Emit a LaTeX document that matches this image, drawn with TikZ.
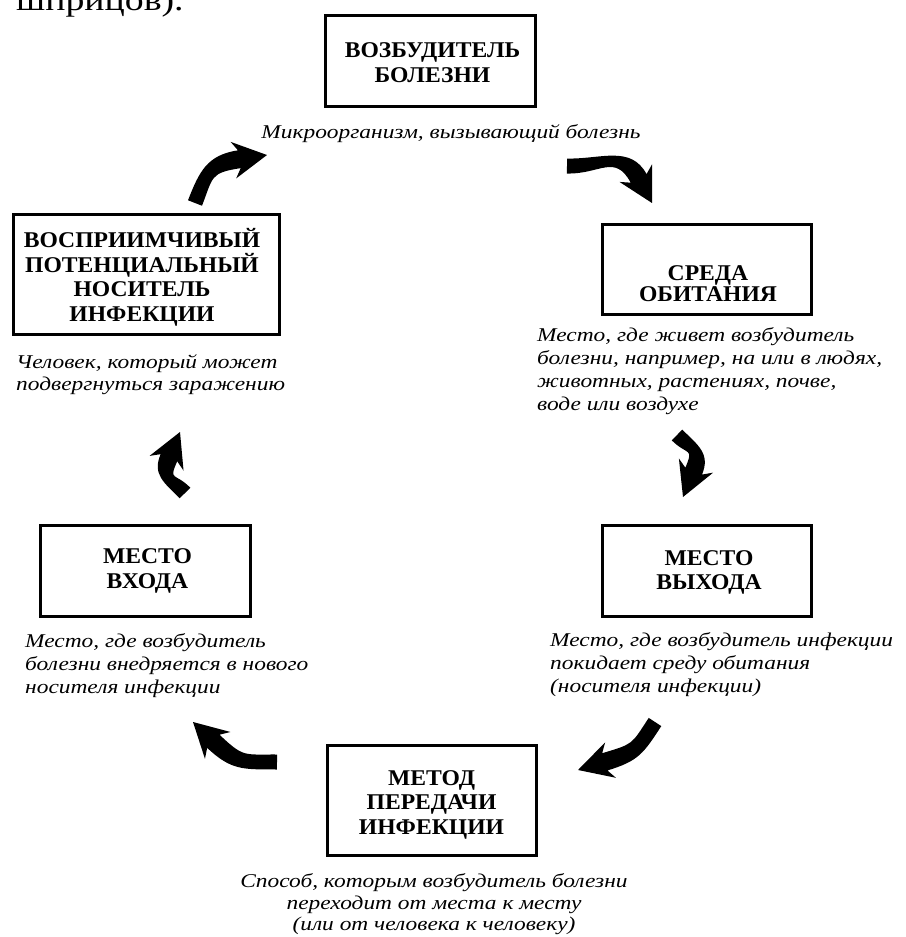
\documentclass[tikz,border=0pt]{standalone}
\usepackage{fontspec}
\setmainfont{Liberation Serif}
\newfontfamily\boxfont[FakeStretch=1.05]{Liberation Serif}
\newfontfamily\capfont[FakeStretch=1.2]{Liberation Serif}
\usetikzlibrary{calc}
\tikzset{
  frame/.style={draw, line width=3pt, inner sep=0pt},
  boxtext/.style={anchor=base, align=center, inner sep=0pt,
    font=\boxfont\bfseries\fontsize{22.5}{24.5}\selectfont},
  captext/.style={inner sep=0pt, font=\capfont\itshape\fontsize{19.5}{23}\selectfont},
  capleft/.style={captext, anchor=base west, align=left},
  capmid/.style={captext, anchor=base, align=center},
  pics/carrow/.style n args={3}{code={
    \pgfmathsetmacro\caL{#1}
    \pgfmathsetmacro\caK{0.36*\caL}
    \def\caAS{#2}\def\caAE{#3}
    \def\caHL{28}\def\caHW{18.5}\def\caSW{9}\def\caTW{7.5}\def\caSB{6}
    \pgfmathsetmacro\caHx{\caL-\caHL*cos(\caAE)}
    \pgfmathsetmacro\caHy{-\caHL*sin(\caAE)}
    \pgfmathsetmacro\caEx{cos(\caAE)}\pgfmathsetmacro\caEy{sin(\caAE)}
    \pgfmathsetmacro\caOx{sin(\caAE)}\pgfmathsetmacro\caOy{-cos(\caAE)}
    \pgfmathsetmacro\caSx{cos(\caAS)}\pgfmathsetmacro\caSy{sin(\caAS)}
    \pgfmathsetmacro\caPx{sin(\caAS)}\pgfmathsetmacro\caPy{-cos(\caAS)}
    \fill ({\caTW*(\caPx)},{\caTW*(\caPy)})
      .. controls ({\caTW*(\caPx)+\caK*(\caSx)},{\caTW*(\caPy)+\caK*(\caSy)})
         and ({\caHx+\caSW*(\caOx)-\caK*(\caEx)},{\caHy+\caSW*(\caOy)-\caK*(\caEy)})
      .. ({\caHx+\caSW*(\caOx)},{\caHy+\caSW*(\caOy)})
      -- ({\caHx+\caHW*(\caOx)-\caSB*(\caEx)},{\caHy+\caHW*(\caOy)-\caSB*(\caEy)})
      -- (\caL,0)
      -- ({\caHx-\caHW*(\caOx)-\caSB*(\caEx)},{\caHy-\caHW*(\caOy)-\caSB*(\caEy)})
      -- ({\caHx-\caSW*(\caOx)},{\caHy-\caSW*(\caOy)})
      .. controls ({\caHx-\caSW*(\caOx)-\caK*(\caEx)},{\caHy-\caSW*(\caOy)-\caK*(\caEy)})
         and ({-\caTW*(\caPx)+\caK*(\caSx)},{-\caTW*(\caPy)+\caK*(\caSy)})
      .. ({-\caTW*(\caPx)},{-\caTW*(\caPy)})
      -- cycle;
  }},
}
\begin{document}
\begin{tikzpicture}[x=1pt,y=-1pt]
\useasboundingbox (0,0) rectangle (905,937);
\clip (0,0) rectangle (905,937);
\fill[white] (0,0) rectangle (905,937);

% fragment of preceding text
\node[anchor=base west, inner sep=0pt, font=\capfont\fontsize{31.5}{34}\selectfont] (frag) at (16,10) {шприцов).};

% boxes
\node[frame, minimum width=210pt, minimum height=91pt] (agent) at (430.5,61) {};
\node[frame, minimum width=266pt, minimum height=120pt] (host) at (146.5,274.5) {};
\node[frame, minimum width=209pt, minimum height=90pt] (reservoir) at (707,269.5) {};
\node[frame, minimum width=210pt, minimum height=91pt] (entry) at (145.5,571) {};
\node[frame, minimum width=209pt, minimum height=91pt] (exit) at (707,571) {};
\node[frame, minimum width=209pt, minimum height=110pt] (trans) at (432,800.5) {};

% box titles (anchor = baseline of last line)
\node[boxtext] (agentT) at (432.5,82) {ВОЗБУДИТЕЛЬ\\БОЛЕЗНИ};
\node[boxtext] (hostT) at (142,321) {ВОСПРИИМЧИВЫЙ\\ПОТЕНЦИАЛЬНЫЙ\\НОСИТЕЛЬ\\ИНФЕКЦИИ};
\node[boxtext] (reservoirT) at (708,301.5) {СРЕДА\\[-3pt]ОБИТАНИЯ};
\node[boxtext] (entryT) at (147.5,588) {МЕСТО\\ВХОДА};
\node[boxtext] (exitT) at (709,589.5) {МЕСТО\\ВЫХОДА};
\node[boxtext] (transT) at (431.5,834) {МЕТОД\\ПЕРЕДАЧИ\\ИНФЕКЦИИ};

% captions (anchor = baseline of last line)
\node[capmid] (agentC) at (451,138) {Микроорганизм, вызывающий болезнь};
\node[capleft] (hostC) at (16,390) {Человек, который может\\[-1pt]подвергнуться заражению};
\node[capleft] (reservoirC) at (537,410) {Место, где живет возбудитель\\болезни, например, на или в людях,\\животных, растениях, почве,\\воде или воздухе};
\node[capleft] (entryC) at (25,693) {Место, где возбудитель\\болезни внедряется в нового\\носителя инфекции};
\node[capleft] (exitC) at (550,692) {Место, где возбудитель инфекции\\покидает среду обитания\\(носителя инфекции)};
\node[capmid] (transC) at (434,930) {Способ, которым возбудитель болезни\\[-1pt]переходит от места к месту\\[-2pt](или от человека к человеку)};

% curved block arrows (tail -> tip)
\coordinate (t1) at (195,203); \coordinate (h1) at (267,155);
\coordinate (t2) at (567,166); \coordinate (h2) at (652,203);
\coordinate (t3) at (677,435); \coordinate (h3) at (683,497);
\coordinate (t4) at (655,722); \coordinate (h4) at (578,770);
\coordinate (t5) at (277,762); \coordinate (h5) at (193,722);
\coordinate (t6) at (185,493); \coordinate (h6) at (180,432);
\foreach \i/\sa/\ea in {1/-35/25, 2/-22/38, 3/-40/28, 4/-25/15, 5/-25/18, 6/-40/28}{
  \path let \p1=($(h\i)-(t\i)$), \n1={atan2(\y1,\x1)}, \n2={veclen(\x1,\y1)}
    in (t\i) pic[rotate=\n1] {carrow={\n2}{\sa}{\ea}};
}
\end{tikzpicture}
\end{document}
